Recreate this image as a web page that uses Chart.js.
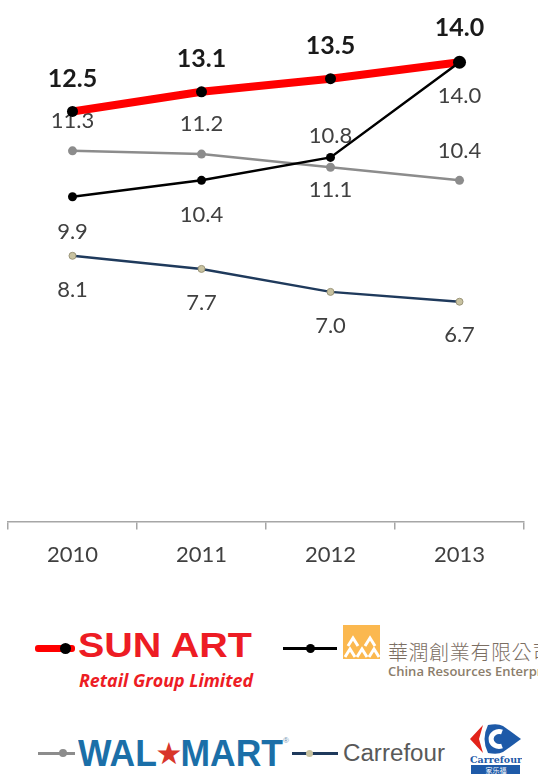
<!DOCTYPE html>
<html lang="en">
<head>
  <meta charset="UTF-8">
  <title>Sun Art vs competitors</title>
  <script src="https://cdn.jsdelivr.net/npm/chart.js"></script>
  <style>
    body { margin: 0; width: 538px; height: 774px; overflow: hidden; background: #fff; position: relative; }
    #wrap { position: absolute; left: 0; top: 0; width: 538px; height: 590px; }
    .abs { position: absolute; white-space: nowrap; line-height: 1; }
    .fit { display: inline-block; transform-origin: left top; }
    .ln { position: absolute; }
    .dot { position: absolute; border-radius: 50%; }
  </style>
</head>
<body>
  <div id="wrap"><canvas id="shareChart" width="538" height="590"></canvas></div>

  <!-- legend -->
  <div class="ln" style="left:35px;top:645px;width:40px;height:7px;background:#ff0000;border-radius:3px"></div>
  <div class="dot" style="left:60px;top:643px;width:11px;height:11px;background:#000"></div>
  <div class="abs fit" id="sunArt" style="left:78px;top:625px;font:bold 35px 'Liberation Sans';color:#ed1c24">SUN ART</div>
  <div class="abs fit" id="sunArtSub" style="left:79px;top:668px;font:italic bold 18px 'Open Sans';color:#ed1c24">Retail Group Limited</div>

  <div class="ln" style="left:283px;top:647px;width:54px;height:3px;background:#000"></div>
  <div class="dot" style="left:306px;top:644px;width:9px;height:9px;background:#000"></div>
  <svg class="abs" style="left:343px;top:625px" width="37" height="34">
    <rect width="37" height="34" fill="#fbb84f"/>
    <polyline points="5,21 10,13 15,21" fill="none" stroke="#fff" stroke-width="3"/>
    <polyline points="22,21 27,13 32,21" fill="none" stroke="#fff" stroke-width="3"/>
    <polyline points="2,32 7,24 12,32" fill="none" stroke="#fff" stroke-width="3"/>
    <polyline points="14,32 19,24 24,32" fill="none" stroke="#fff" stroke-width="3"/>
    <polyline points="26,32 31,24 36,32" fill="none" stroke="#fff" stroke-width="3"/>
  </svg>
  <div class="abs" style="left:388px;top:637px;font:300 20px 'Noto Sans CJK TC';letter-spacing:0.6px;color:#7b6e63">華潤創業有限公司</div>
  <div class="abs" style="left:388px;top:662px;font:600 13px 'Open Sans';color:#8b7d6b">China Resources Enterprise</div>

  <div class="ln" style="left:38px;top:752px;width:37px;height:3px;background:#8c8c8c"></div>
  <div class="dot" style="left:59px;top:749px;width:8px;height:8px;background:#8c8c8c"></div>
  <div class="abs fit" id="walmart" style="left:78px;top:733px;font:bold 36px 'Liberation Sans';color:#1b6fa8">WAL<span style="color:#d8352a;font-size:0.75em;vertical-align:0.12em">★</span>MART</div>
  <div class="abs" style="left:283px;top:736px;font:8px 'Liberation Sans';color:#6d8fb0">®</div>

  <div class="ln" style="left:292px;top:752px;width:46px;height:3px;background:#1f3a5c"></div>
  <div class="dot" style="left:306px;top:750px;width:7px;height:7px;background:#c8c2a0"></div>
  <div class="abs fit" id="carrefourTxt" style="left:343px;top:740px;font:23px 'Liberation Sans';color:#595959">Carrefour</div>
  <svg class="abs" style="left:470px;top:722px" width="52" height="52">
    <polygon points="13,3 0,17 13,31 9,17" fill="#e2231a"/>
    <path d="M18 3 Q28 1 33 4 L51 17 L33 30 Q28 33 18 31 Q11 17 18 3 Z" fill="#1e5aa8"/>
    <path d="M32 10 A8 7.5 0 1 0 32 24" fill="none" stroke="#fff" stroke-width="5"/>
    <text x="26" y="41" text-anchor="middle" font-family="DejaVu Serif" font-weight="bold" font-size="9.5" fill="#1e5aa8">Carrefour</text>
    <rect x="1" y="43" width="49" height="9" fill="#1e5aa8"/>
    <text x="26" y="51" text-anchor="middle" font-family="Noto Sans CJK SC" font-size="7" fill="#fff">家乐福</text>
  </svg>

  <script>
    const years = ['2010', '2011', '2012', '2013'];

    // series values (read from point positions)
    const sunArt = [12.5, 13.1, 13.5, 14.0];
    const chinaRes = [9.9, 10.4, 11.1, 14.0];
    const walmart = [11.3, 11.2, 10.8, 10.4];
    const carrefour = [8.1, 7.7, 7.0, 6.7];

    // label texts as printed on the chart
    const sunArtLabels = ['12.5', '13.1', '13.5', '14.0'];
    const chinaResLabels = ['9.9', '10.4', '10.8', '14.0'];
    const walmartLabels = ['11.3', '11.2', '11.1', '10.4'];
    const carrefourLabels = ['8.1', '7.7', '7.0', '6.7'];

    // label offsets from the point (px, + is below)
    const labelStyle = [
      { texts: chinaResLabels, dy: [35, 35, -21, 34], font: '22px Lato', color: '#404040' },
      { texts: sunArtLabels, dy: [-33, -33, -33, -34], font: 'bold 25px Lato', color: '#1a1a1a' },
      { texts: walmartLabels, dy: [-30, -30, 23, -29], font: '22px Lato', color: '#404040' },
      { texts: carrefourLabels, dy: [34, 34, 34, 33], font: '22px Lato', color: '#404040' }
    ];

    const valueLabels = {
      id: 'valueLabels',
      beforeDatasetsDraw(chart) {
        const ctx = chart.ctx;
        ctx.save();
        ctx.textAlign = 'center';
        ctx.textBaseline = 'middle';
        labelStyle.forEach((s, di) => {
          const meta = chart.getDatasetMeta(di);
          ctx.font = s.font;
          ctx.fillStyle = s.color;
          meta.data.forEach((pt, i) => {
            ctx.fillText(s.texts[i], pt.x, pt.y + s.dy[i]);
          });
        });
        ctx.restore();
      }
    };

    const ctx = document.getElementById('shareChart').getContext('2d');
    const shareChart = new Chart(ctx, {
      type: 'line',
      data: {
        labels: years,
        datasets: [
          {
            label: 'China Resources Enterprise',
            data: chinaRes,
            borderColor: '#000',
            borderWidth: 2.5,
            pointBackgroundColor: '#000',
            pointBorderWidth: 0,
            pointRadius: [4.5, 4.5, 4.5, 6.5]
          },
          {
            label: 'Sun Art',
            data: sunArt,
            borderColor: '#ff0000',
            borderWidth: 8,
            pointBackgroundColor: '#000',
            pointBorderWidth: 0,
            pointRadius: 5.5
          },
          {
            label: 'Walmart',
            data: walmart,
            borderColor: '#8c8c8c',
            borderWidth: 2.5,
            pointBackgroundColor: '#8c8c8c',
            pointBorderWidth: 0,
            pointRadius: 4.5
          },
          {
            label: 'Carrefour',
            data: carrefour,
            borderColor: '#1f3a5c',
            borderWidth: 2.5,
            pointBackgroundColor: '#c8c2a0',
            pointBorderColor: '#9a9478',
            pointBorderWidth: 1,
            pointRadius: 3.5
          }
        ]
      },
      options: {
        responsive: false,
        animation: false,
        layout: { padding: { left: 8, right: 14, top: 0, bottom: 0 } },
        plugins: { legend: { display: false }, tooltip: { enabled: false } },
        elements: { line: { tension: 0 } },
        scales: {
          y: { display: false, min: 0, max: 15.7 },
          x: {
            offset: true,
            border: { color: '#a6a6a6', width: 1.5 },
            grid: { offset: true, drawOnChartArea: false, tickLength: 8, color: '#a6a6a6', lineWidth: 1.5 },
            ticks: { color: '#404040', font: { family: 'Lato', size: 22 }, padding: 12 },
            afterFit(scale) { scale.height = 68.5; }
          }
        }
      },
      plugins: [valueLabels]
    });

    function fitWidth(id, w) {
      const el = document.getElementById(id);
      el.style.transform = 'none';
      const r = el.getBoundingClientRect().width;
      el.style.transform = 'scaleX(' + (w / r) + ')';
    }
    function fitAll() {
      fitWidth('sunArt', 174);
      fitWidth('sunArtSub', 174);
      fitWidth('walmart', 205);
      fitWidth('carrefourTxt', 102);
    }
    fitAll();
    document.fonts.ready.then(fitAll);
  </script>
</body>
</html>
